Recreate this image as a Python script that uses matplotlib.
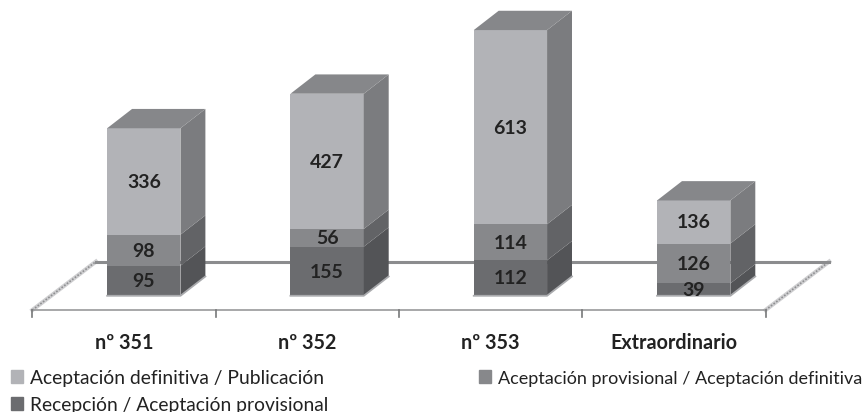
import matplotlib
matplotlib.use('Agg')
import matplotlib.pyplot as plt
from matplotlib.patches import Polygon, Patch
import numpy as np

plt.rcParams['font.family'] = ['Lato', 'DejaVu Sans']

categories = ['nº 351', 'nº 352', 'nº 353', 'Extraordinario']
recepcion = [95, 155, 112, 39]
provisional = [98, 56, 114, 126]
definitiva = [336, 427, 613, 136]
series_names = ['Aceptación definitiva / Publicación',
                'Recepción / Aceptación provisional',
                'Aceptación provisional / Aceptación definitiva']

# front colour, side colour
dark = ('#6b6c6f', '#535457')
mid = ('#87888b', '#626366')
light = ('#b2b3b7', '#7b7c7f')
top_color = '#86878a'

bar_w = 0.40
shift = 0.108      # bars sit right of the tick cell centre
depth_x = 0.136    # 3d depth in category units
depth_y = 61       # 3d depth in value units
floor_front = -45
floor_back = 108
floor_x = 0.347

fig = plt.figure(figsize=(8.64, 4.12), dpi=100)
ax = fig.add_axes([0, 0, 1, 1])
ax.set_xlim(-0.6765, 4.037)
ax.set_ylim(-367, 934)
ax.axis('off')

# floor
x0, x1 = -0.5, 3.5
ax.plot([x0, x0 + floor_x], [floor_front, floor_back], color='#cfcfd1', lw=3, zorder=1)
ax.plot([x0, x0 + floor_x], [floor_front, floor_back], color='#8e8f91', lw=1.2, ls=(0, (1, 1)), zorder=1)
ax.plot([x1, x1 + floor_x], [floor_front, floor_back], color='#cfcfd1', lw=3, zorder=1)
ax.plot([x1, x1 + floor_x], [floor_front, floor_back], color='#8e8f91', lw=1.2, ls=(0, (1, 1)), zorder=1)
ax.plot([x0 + floor_x, x1 + floor_x], [floor_back, floor_back], color='#8b8c8e', lw=2.2, zorder=1)
ax.plot([x0, x1], [floor_front, floor_front], color='#98999b', lw=1.2, zorder=1)
for t in np.arange(x0, x1 + 0.5, 1):
    ax.plot([t, t], [floor_front, floor_front - 22], color='#777879', lw=1.2, zorder=1)

# bars
x = np.arange(len(categories)) + shift
bottom = np.zeros(len(categories))
for values, (front, side) in zip([recepcion, provisional, definitiva], [dark, mid, light]):
    values = np.array(values)
    ax.bar(x, values, bar_w, bottom=bottom, color=front, linewidth=0, zorder=3)
    for xi, b, v in zip(x, bottom, values):
        r = xi + bar_w / 2
        ax.add_patch(Polygon([(r, b), (r + depth_x, b + depth_y),
                              (r + depth_x, b + v + depth_y), (r, b + v)],
                             closed=True, facecolor=side, edgecolor='none', zorder=3))
        ax.text(xi, b + v / 2 - 3, str(v), ha='center', va='center', fontsize=14,
                fontweight='bold', color='#222222', zorder=5)
    bottom = bottom + values

# tops and the light strip along the base
for xi, b in zip(x, bottom):
    l, r = xi - bar_w / 2, xi + bar_w / 2
    ax.add_patch(Polygon([(l, b), (r, b), (r + depth_x, b + depth_y), (l + depth_x, b + depth_y)],
                         closed=True, facecolor=top_color, edgecolor='none', zorder=3))
    ax.plot([l, r, r + depth_x], [0, 0, depth_y], color='#a9aaad', lw=1.3, zorder=4)

# category labels
for i, c in enumerate(categories):
    ax.text(i, -148, c, ha='center', va='center', fontsize=14.2, fontweight='bold', color='#222222')

handles = [Patch(color=light[0]), Patch(color=dark[0]), Patch(color=mid[0])]
leg = ax.legend(handles, series_names, ncol=2, loc='lower left', bbox_to_anchor=(0.008, -0.013),
                frameon=False, fontsize=13.85, handlelength=0.63, handleheight=0.63, handletextpad=0.36,
                columnspacing=7.85, labelspacing=0.52, labelcolor='#222222', borderpad=0.2, borderaxespad=0)
# the long label has to fit up to the right edge
leg.get_texts()[2].set_fontsize(13)

fig.savefig('out.png', dpi=100)
